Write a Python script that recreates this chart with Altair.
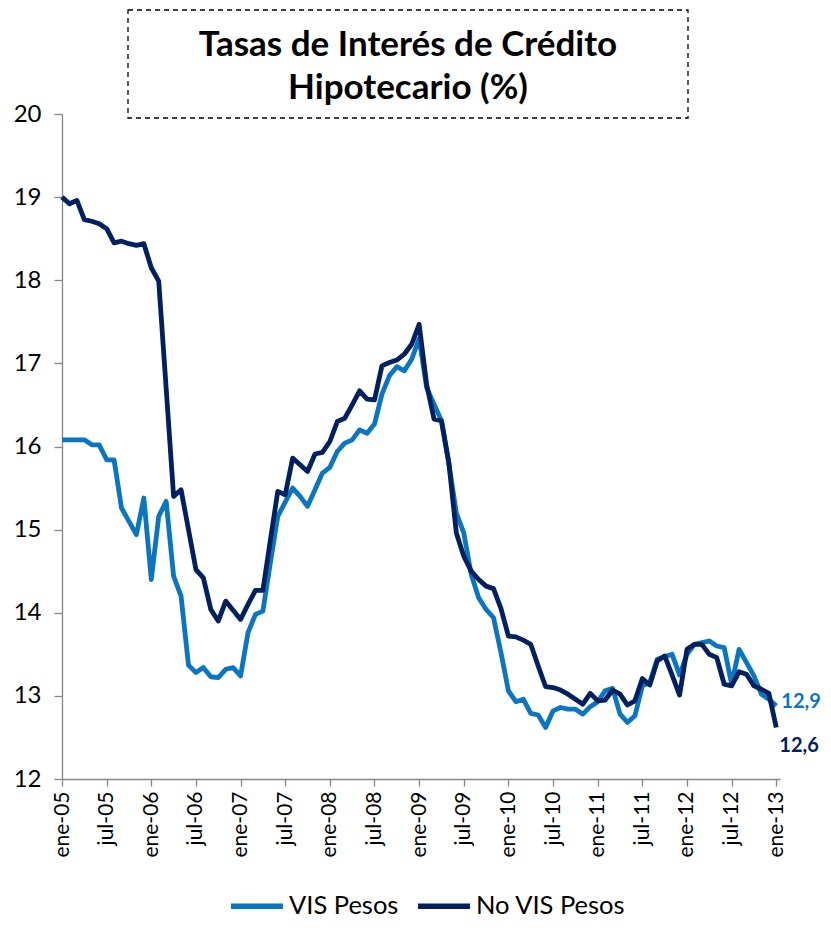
import json
import altair as alt
import pandas as pd

# ---- data (monthly, ene-05 .. ene-13) ----
meses = list(range(97))
vis_pesos = [
    16.08, 16.08, 16.08, 16.08, 16.02, 16.02, 15.84, 15.84, 15.26, 15.10,
    14.94, 15.38, 14.40, 15.16, 15.34, 14.44, 14.20, 13.37, 13.28, 13.34,
    13.23, 13.22, 13.32, 13.34, 13.24, 13.76, 13.98, 14.02, 14.60, 15.16,
    15.33, 15.50, 15.40, 15.28, 15.48, 15.68, 15.75, 15.94, 16.04, 16.08,
    16.20, 16.16, 16.27, 16.63, 16.85, 16.96, 16.91, 17.05, 17.30, 16.71,
    16.51, 16.31, 15.79, 15.20, 14.96, 14.46, 14.18, 14.04, 13.94, 13.52,
    13.06, 12.93, 12.96, 12.79, 12.77, 12.62, 12.82, 12.86, 12.84, 12.84,
    12.78, 12.87, 12.93, 13.06, 13.09, 12.78, 12.68, 12.76, 13.12, 13.16,
    13.44, 13.47, 13.50, 13.25, 13.50, 13.62, 13.64, 13.66, 13.60, 13.58,
    13.14, 13.56, 13.40, 13.24, 13.02, 12.96, 12.88,
]
no_vis_pesos = [
    19.00, 18.92, 18.96, 18.73, 18.71, 18.68, 18.62, 18.45, 18.47, 18.44,
    18.42, 18.44, 18.15, 17.99, 16.70, 15.40, 15.48, 15.00, 14.52, 14.42,
    14.04, 13.90, 14.14, 14.03, 13.92, 14.10, 14.27, 14.27, 14.87, 15.46,
    15.42, 15.86, 15.78, 15.70, 15.91, 15.93, 16.06, 16.30, 16.34, 16.50,
    16.67, 16.57, 16.56, 16.97, 17.01, 17.04, 17.11, 17.23, 17.47, 16.75,
    16.33, 16.31, 15.80, 14.96, 14.68, 14.50, 14.40, 14.32, 14.29, 14.05,
    13.72, 13.71, 13.67, 13.62, 13.36, 13.11, 13.10, 13.07, 13.02, 12.96,
    12.90, 13.03, 12.94, 12.95, 13.07, 13.02, 12.89, 12.94, 13.21, 13.13,
    13.42, 13.48, 13.25, 13.01, 13.56, 13.62, 13.62, 13.50, 13.46, 13.14,
    13.12, 13.29, 13.26, 13.12, 13.08, 13.03, 12.62,
]
series = ["VIS Pesos", "No VIS Pesos"]
colores = ["#0A75C2", "#002060"]
tick_meses = list(range(0, 97, 6))
tick_labels = ["ene-05", "jul-05", "ene-06", "jul-06", "ene-07", "jul-07",
               "ene-08", "jul-08", "ene-09", "jul-09", "ene-10", "jul-10",
               "ene-11", "jul-11", "ene-12", "jul-12", "ene-13"]
y_ticks = list(range(12, 21))
titulo = ["Tasas de Interés de Crédito", "Hipotecario (%)"]

FONT = "Lato"

df = pd.DataFrame({
    "mes": meses * 2,
    "tasa": vis_pesos + no_vis_pesos,
    "serie": [series[0]] * len(meses) + [series[1]] * len(meses),
})
df_end = pd.DataFrame({
    "mes": [meses[-1], meses[-1]],
    "tasa": [vis_pesos[-1], no_vis_pesos[-1]],
    "serie": series,
    "etiqueta": [f"{vis_pesos[-1]:.1f}".replace(".", ","),
                 f"{no_vis_pesos[-1]:.1f}".replace(".", ",")],
})

x_enc = alt.X(
    "mes:Q",
    scale=alt.Scale(domain=[0, 96.5], nice=False, zero=False),
    axis=alt.Axis(
        values=tick_meses,
        labelExpr=json.dumps(tick_labels) + "[round(datum.value / 6)]",
        labelAngle=-90, title=None, grid=False,
        labelFont=FONT, labelFontSize=21, labelColor="#000000",
        labelPadding=5, tickSize=7, tickColor="#868686",
        domainColor="#868686", domainWidth=1.3, tickWidth=1.3,
    ),
)
y_enc = alt.Y(
    "tasa:Q",
    scale=alt.Scale(domain=[12, 20], nice=False, zero=False),
    axis=alt.Axis(
        values=y_ticks, format="d", title=None, grid=False,
        labelFont=FONT, labelFontSize=24, labelColor="#000000",
        labelPadding=13, tickSize=8, tickColor="#868686",
        domainColor="#868686", domainWidth=1.3, tickWidth=1.3,
    ),
)

lines = alt.Chart(df).mark_line(strokeWidth=4.8, strokeJoin="round").encode(
    x=x_enc,
    y=y_enc,
    color=alt.Color(
        "serie:N",
        scale=alt.Scale(domain=series, range=colores),
        sort=series,
        legend=alt.Legend(
            title=None, orient="none", legendX=166, legendY=763,
            direction="horizontal", symbolType="stroke", symbolSize=2700,
            symbolStrokeWidth=5.5, labelFont=FONT, labelFontSize=25.5,
            labelColor="#000000", columnPadding=8, labelOffset=3,
            labelLimit=400,
        ),
    ),
    order=alt.Order("mes:Q"),
)

text_vis = alt.Chart(df_end).transform_filter(
    alt.datum.serie == series[0]
).mark_text(
    align="left", baseline="middle", dx=5, dy=-4,
    font=FONT, fontSize=20, fontWeight="bold", color=colores[0],
).encode(x="mes:Q", y="tasa:Q", text="etiqueta:N")

text_novis = alt.Chart(df_end).transform_filter(
    alt.datum.serie == series[1]
).mark_text(
    align="left", baseline="middle", dx=3, dy=19,
    font=FONT, fontSize=20, fontWeight="bold", color=colores[1],
).encode(x="mes:Q", y="tasa:Q", text="etiqueta:N")

deco = pd.DataFrame({"k": [0]})
box = alt.Chart(deco).mark_rect(
    fillOpacity=0, stroke="#000000", strokeWidth=1.3, strokeDash=[5, 4]
).encode(x=alt.value(66), x2=alt.value(626), y=alt.value(-104), y2=alt.value(4))

title_text = alt.Chart(deco).mark_text(
    text=titulo, font=FONT, fontSize=35, fontWeight="bold", color="#000000",
    align="center", baseline="middle", lineHeight=43,
).encode(x=alt.value(346), y=alt.value(-69))

chart = alt.layer(box, title_text, lines, text_vis, text_novis).properties(
    width=718, height=665,
    padding={"left": 54, "top": 106, "right": 43, "bottom": 139},
    autosize=alt.AutoSizeParams(type="none"),
).configure_view(stroke=None)

chart.save("out.html", embed_options={"renderer": "svg", "actions": False})
